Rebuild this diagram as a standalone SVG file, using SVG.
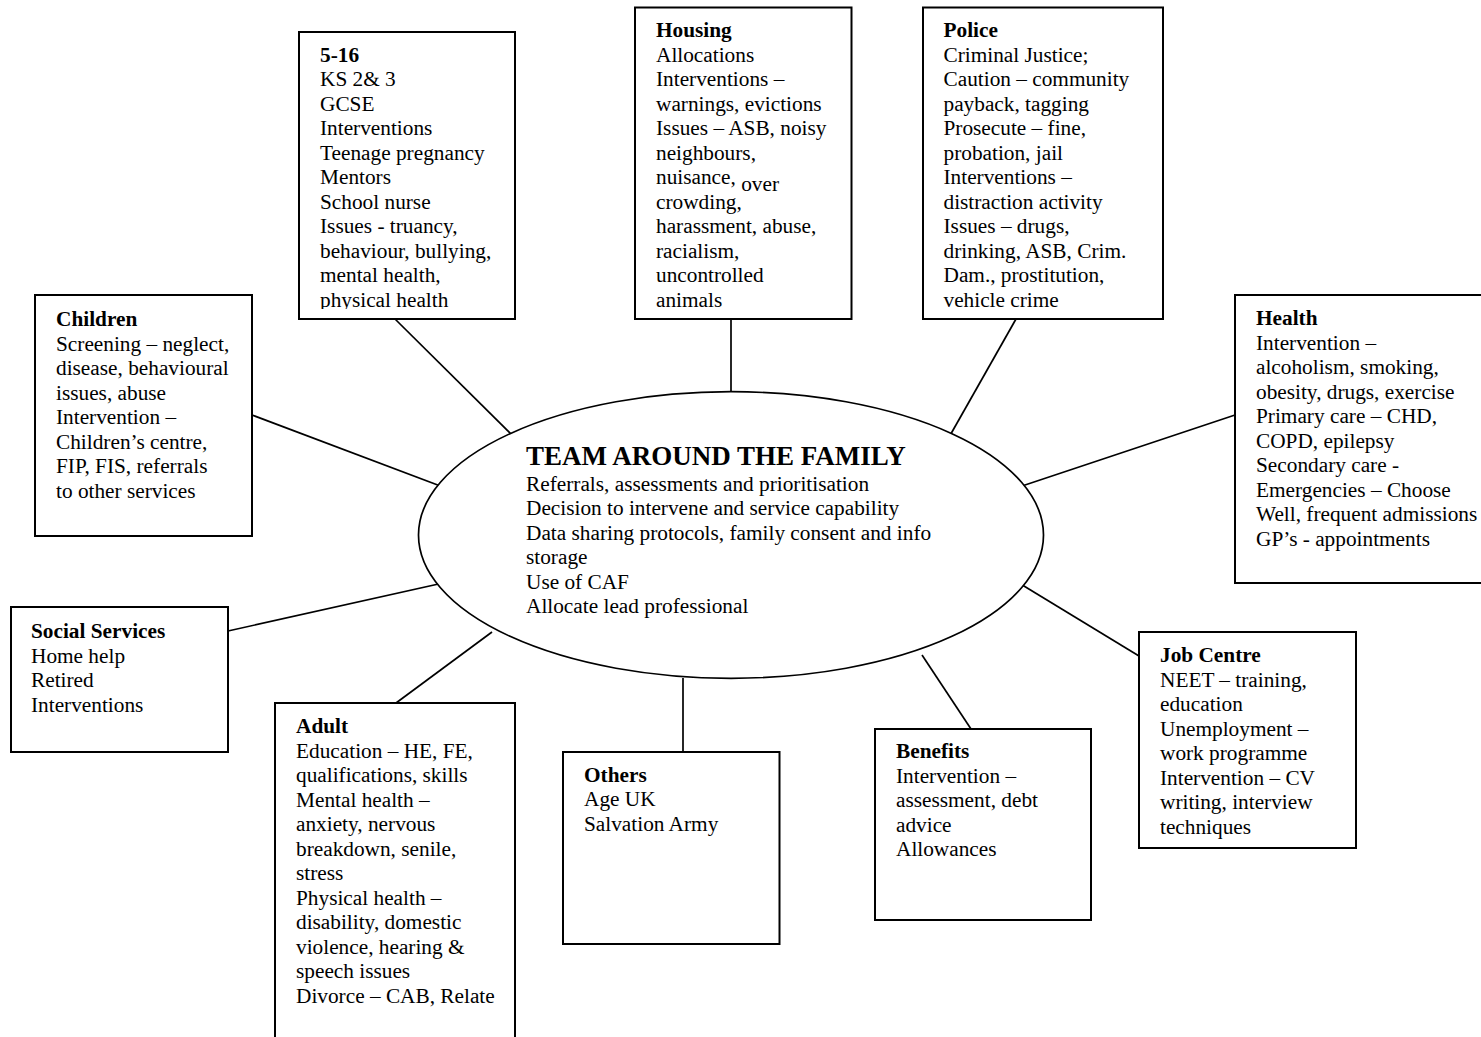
<svg xmlns="http://www.w3.org/2000/svg" width="1481" height="1037" viewBox="0 0 1481 1037">
<style>
  text { font-family: "Liberation Serif", "Times New Roman", serif; font-size: 21.3px; fill: #000; }
  .h { font-weight: bold; }
  .title { font-weight: bold; font-size: 27px; }
  .box { fill: #fff; stroke: #000; stroke-width: 2; }
  .conn line { stroke: #000; stroke-width: 1.7; }
  .ell { fill: #fff; stroke: #000; stroke-width: 1.7; }
</style>
<defs>
  <clipPath id="clip516"><rect x="299" y="32" width="216" height="277"/></clipPath>
</defs>
<rect width="1481" height="1037" fill="#fff"/>

<g id="connectors" class="conn">
  <line x1="395" y1="319" x2="516" y2="439"/>
  <line x1="731" y1="319" x2="731" y2="392"/>
  <line x1="1016" y1="319" x2="948" y2="439"/>
  <line x1="252" y1="415" x2="443" y2="487"/>
  <line x1="1235" y1="415" x2="1019" y2="487"/>
  <line x1="228" y1="631" x2="443" y2="583"/>
  <line x1="1019" y1="583" x2="1139" y2="656"/>
  <line x1="396" y1="703" x2="492" y2="632"/>
  <line x1="683" y1="678" x2="683" y2="752"/>
  <line x1="922" y1="655" x2="971" y2="729"/>
</g>

<g id="team">
  <ellipse class="ell" cx="731" cy="535" rx="312.5" ry="143.3"/>
  <text class="title" x="526" y="465">TEAM AROUND THE FAMILY</text>
  <text x="526" y="490.5">Referrals, assessments and prioritisation</text>
  <text x="526" y="515">Decision to intervene and service capability</text>
  <text x="526" y="539.5">Data sharing protocols, family consent and info</text>
  <text x="526" y="564">storage</text>
  <text x="526" y="588.5">Use of CAF</text>
  <text x="526" y="613">Allocate lead professional</text>
</g>

<g id="n516">
  <rect class="box" x="299" y="32" width="216" height="287"/>
  <g clip-path="url(#clip516)">
    <text class="h" x="320" y="61.7">5-16</text>
    <text x="320" y="86.2">KS 2&amp; 3</text>
    <text x="320" y="110.7">GCSE</text>
    <text x="320" y="135.2">Interventions</text>
    <text x="320" y="159.7">Teenage pregnancy</text>
    <text x="320" y="184.2">Mentors</text>
    <text x="320" y="208.7">School nurse</text>
    <text x="320" y="233.2">Issues - truancy,</text>
    <text x="320" y="257.7">behaviour, bullying,</text>
    <text x="320" y="282.2">mental health,</text>
    <text x="320" y="306.7">physical health</text>
  </g>
</g>

<g id="housing">
  <rect class="box" x="635" y="7.5" width="216.5" height="311.5"/>
  <text class="h" x="656" y="37.3">Housing</text>
  <text x="656" y="61.8">Allocations</text>
  <text x="656" y="86.3">Interventions –</text>
  <text x="656" y="110.8">warnings, evictions</text>
  <text x="656" y="135.3">Issues – ASB, noisy</text>
  <text x="656" y="159.8">neighbours,</text>
  <text x="656" y="184.3">nuisance, <tspan y="190.5">over</tspan></text>
  <text x="656" y="208.8">crowding,</text>
  <text x="656" y="233.3">harassment, abuse,</text>
  <text x="656" y="257.8">racialism,</text>
  <text x="656" y="282.3">uncontrolled</text>
  <text x="656" y="306.8">animals</text>
</g>

<g id="police">
  <rect class="box" x="923" y="7.5" width="240" height="311.5"/>
  <text class="h" x="943.5" y="37.3">Police</text>
  <text x="943.5" y="61.8">Criminal Justice;</text>
  <text x="943.5" y="86.3">Caution – community</text>
  <text x="943.5" y="110.8">payback, tagging</text>
  <text x="943.5" y="135.3">Prosecute – fine,</text>
  <text x="943.5" y="159.8">probation, jail</text>
  <text x="943.5" y="184.3">Interventions –</text>
  <text x="943.5" y="208.8">distraction activity</text>
  <text x="943.5" y="233.3">Issues – drugs,</text>
  <text x="943.5" y="257.8">drinking, ASB, Crim.</text>
  <text x="943.5" y="282.3">Dam., prostitution,</text>
  <text x="943.5" y="306.8">vehicle crime</text>
</g>

<g id="children">
  <rect class="box" x="35" y="295" width="217" height="241"/>
  <text class="h" x="56" y="326">Children</text>
  <text x="56" y="350.5">Screening – neglect,</text>
  <text x="56" y="375">disease, behavioural</text>
  <text x="56" y="399.5">issues, abuse</text>
  <text x="56" y="424">Intervention –</text>
  <text x="56" y="448.5">Children’s centre,</text>
  <text x="56" y="473">FIP, FIS, referrals</text>
  <text x="56" y="497.5">to other services</text>
</g>

<g id="health">
  <rect class="box" x="1235" y="295" width="260" height="288"/>
  <text class="h" x="1256" y="325">Health</text>
  <text x="1256" y="349.5">Intervention –</text>
  <text x="1256" y="374">alcoholism, smoking,</text>
  <text x="1256" y="398.5">obesity, drugs, exercise</text>
  <text x="1256" y="423">Primary care – CHD,</text>
  <text x="1256" y="447.5">COPD, epilepsy</text>
  <text x="1256" y="472">Secondary care -</text>
  <text x="1256" y="496.5">Emergencies – Choose</text>
  <text x="1256" y="521">Well, frequent admissions</text>
  <text x="1256" y="545.5">GP’s - appointments</text>
</g>

<g id="social">
  <rect class="box" x="11" y="607" width="217" height="145"/>
  <text class="h" x="31" y="638.3">Social Services</text>
  <text x="31" y="662.8">Home help</text>
  <text x="31" y="687.3">Retired</text>
  <text x="31" y="711.8">Interventions</text>
</g>

<g id="adult">
  <rect class="box" x="275" y="703" width="240" height="345"/>
  <text class="h" x="296" y="733.3">Adult</text>
  <text x="296" y="757.8">Education – HE, FE,</text>
  <text x="296" y="782.3">qualifications, skills</text>
  <text x="296" y="806.8">Mental health –</text>
  <text x="296" y="831.3">anxiety, nervous</text>
  <text x="296" y="855.8">breakdown, senile,</text>
  <text x="296" y="880.3">stress</text>
  <text x="296" y="904.8">Physical health –</text>
  <text x="296" y="929.3">disability, domestic</text>
  <text x="296" y="953.8">violence, hearing &amp;</text>
  <text x="296" y="978.3">speech issues</text>
  <text x="296" y="1002.8">Divorce – CAB, Relate</text>
</g>

<g id="others">
  <rect class="box" x="563" y="752" width="216.5" height="192"/>
  <text class="h" x="584" y="781.7">Others</text>
  <text x="584" y="806.2">Age UK</text>
  <text x="584" y="830.7">Salvation Army</text>
</g>

<g id="benefits">
  <rect class="box" x="875" y="729" width="216" height="191"/>
  <text class="h" x="896" y="758">Benefits</text>
  <text x="896" y="782.5">Intervention –</text>
  <text x="896" y="807">assessment, debt</text>
  <text x="896" y="831.5">advice</text>
  <text x="896" y="856">Allowances</text>
</g>

<g id="jobcentre">
  <rect class="box" x="1139" y="632" width="217" height="216"/>
  <text class="h" x="1160" y="662">Job Centre</text>
  <text x="1160" y="686.5">NEET – training,</text>
  <text x="1160" y="711">education</text>
  <text x="1160" y="735.5">Unemployment –</text>
  <text x="1160" y="760">work programme</text>
  <text x="1160" y="784.5">Intervention – CV</text>
  <text x="1160" y="809">writing, interview</text>
  <text x="1160" y="833.5">techniques</text>
</g>
</svg>
